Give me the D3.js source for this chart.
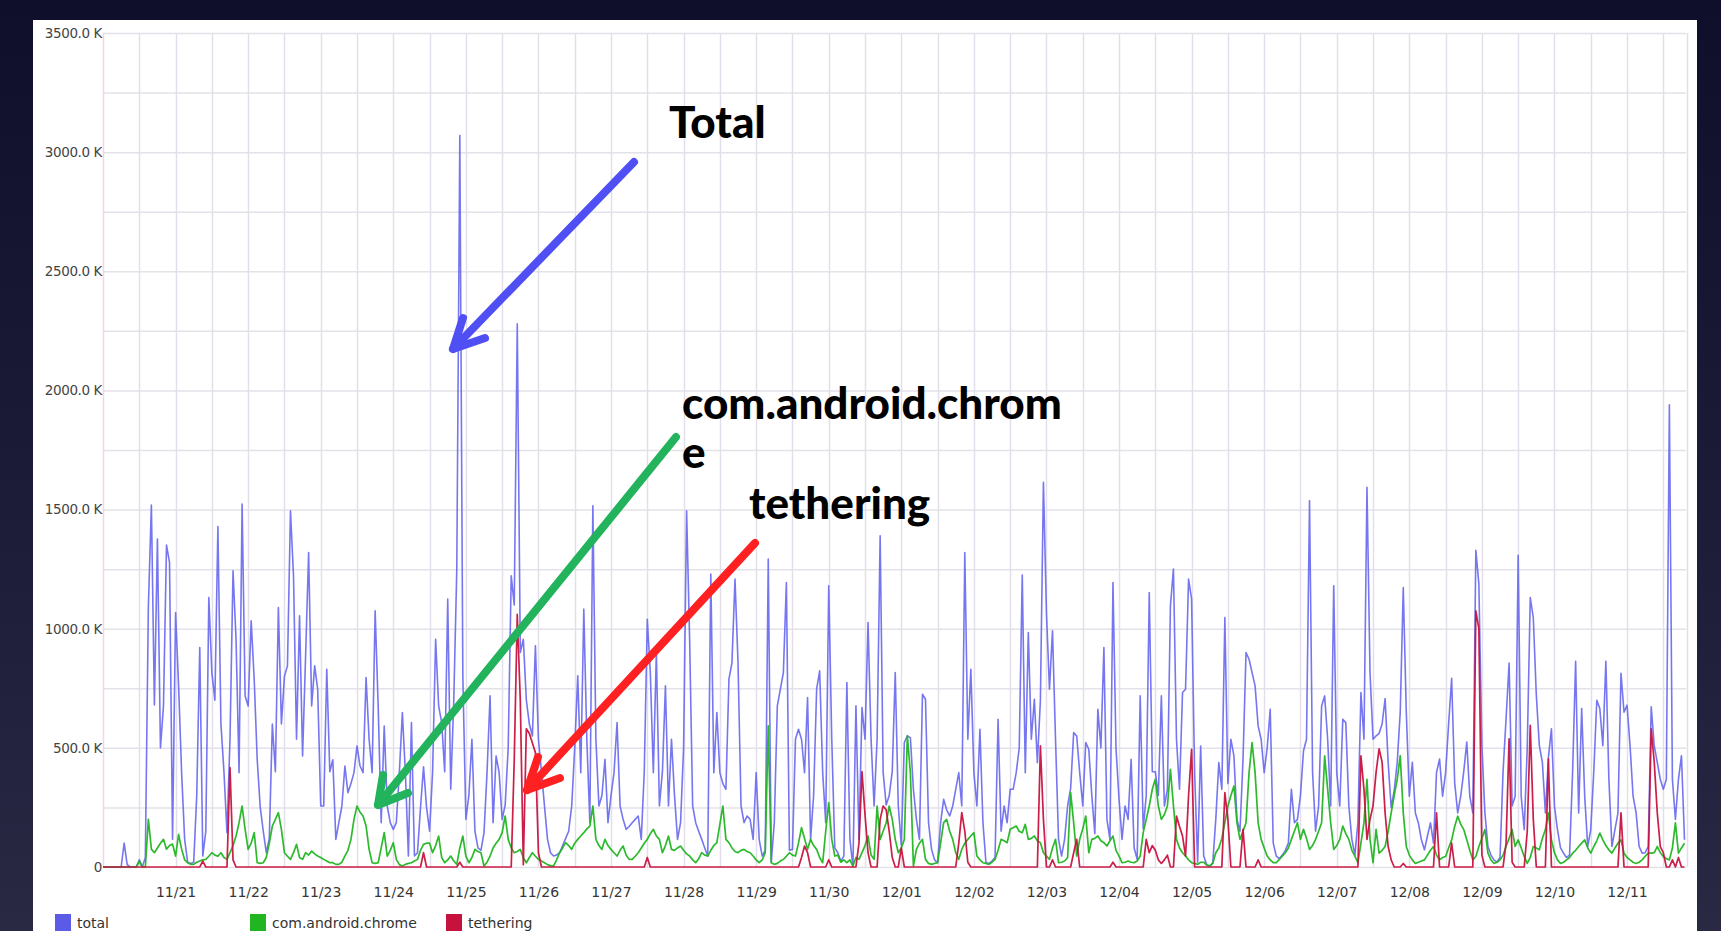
<!DOCTYPE html>
<html><head><meta charset="utf-8">
<script src="https://cdnjs.cloudflare.com/ajax/libs/d3/7.8.5/d3.min.js"></script>
<style>
html,body{margin:0;padding:0;width:1721px;height:931px;overflow:hidden;
background:linear-gradient(180deg,#100f2b 0%,#1b1a37 50%,#2a2944 100%);}
svg{display:block}
</style></head><body>
<svg id="c" width="1721" height="931"></svg>
<script>
// Hourly samples (K bytes) starting 11/20 00:00
const totalK = [
0,0,0,0,0,0,0,100,10,0,0,0,30,0,40,1090,1519,680,1376,500,676,1351,1278,116,
1068,760,396,116,20,15,20,300,921,46,150,1131,816,700,1429,600,400,144,536,1243,956,396,1523,718,
676,1033,788,450,250,150,60,120,600,400,1089,600,800,844,1495,1222,536,1054,466,886,1320,676,844,746,
256,256,830,400,450,116,186,256,424,312,350,396,508,424,396,795,536,396,1075,676,186,592,256,186,
158,186,396,648,396,46,606,46,60,250,420,250,150,400,956,676,606,400,1124,326,700,1250,3070,800,
200,300,536,150,80,70,144,396,718,186,466,396,200,260,500,1222,1100,2280,900,956,700,600,550,928,
536,400,256,116,60,46,50,60,90,120,150,256,500,802,396,1082,536,186,1516,536,256,300,452,186,
300,396,606,256,200,158,170,186,200,214,116,400,1040,816,396,900,256,400,760,256,536,300,116,186,
500,1495,956,256,186,150,116,80,46,1229,396,648,396,350,326,788,858,1208,858,256,186,214,200,116,
396,116,46,70,1292,20,186,676,746,816,1194,70,74,536,578,536,396,711,116,300,746,823,396,186,
1180,536,80,60,25,46,774,116,4,676,116,669,536,1026,536,256,536,1390,396,260,300,400,816,256,
90,522,550,543,326,200,116,725,704,186,74,30,18,186,284,240,214,256,326,396,256,1320,536,830,
396,256,578,186,18,15,25,40,620,150,256,186,326,326,396,500,1225,396,984,536,704,438,700,1614,
1068,746,991,536,116,46,116,256,330,564,550,396,256,522,494,300,140,662,500,921,200,116,1194,500,
284,116,256,200,452,80,32,718,160,300,1152,400,400,300,718,256,326,1096,1250,536,326,732,746,1208,
1124,396,20,508,46,10,4,18,200,438,326,1047,350,536,466,200,150,450,900,872,816,760,592,536,
396,500,662,100,46,35,50,70,100,326,186,200,300,487,536,1537,400,150,256,676,718,536,256,1180,
396,256,620,606,256,116,50,186,732,536,1593,816,536,550,560,600,707,439,250,320,439,650,1173,650,
297,439,227,185,114,72,130,185,100,397,453,297,396,600,792,354,227,297,400,524,297,227,1329,1188,
509,227,86,50,30,20,40,400,623,856,256,297,1308,297,157,500,1131,1046,722,509,439,227,460,580,
255,157,80,58,40,50,400,863,227,665,297,86,157,400,700,665,509,863,368,86,157,227,813,650,
679,509,297,227,86,58,60,86,672,509,439,368,326,368,1940,368,200,368,467,114
];
const chromeK = [
0,0,0,0,0,0,0,0,0,0,0,0,25,0,0,200,75,60,80,100,116,75,90,96,
46,137,75,30,18,11,11,20,25,30,32,45,60,50,45,60,40,32,60,90,130,186,256,158,
74,100,144,18,15,18,40,100,172,200,228,158,60,45,32,60,95,40,32,60,50,67,55,46,
40,32,25,18,18,11,11,20,46,70,116,200,256,230,214,172,74,18,15,18,80,144,46,70,
102,32,10,4,11,15,18,25,32,70,95,100,100,60,90,130,40,18,30,46,25,11,80,130,
46,18,40,74,65,60,4,20,46,80,100,116,144,214,116,80,60,65,74,40,18,40,60,45,
32,25,18,10,6,4,30,60,80,102,90,74,100,116,130,144,160,172,256,116,90,74,116,90,
74,60,46,70,88,50,32,32,45,60,80,100,116,140,158,130,116,60,90,130,74,70,80,88,
70,55,46,30,18,35,60,50,46,70,90,102,180,256,116,102,80,65,60,70,74,65,60,46,
30,18,30,60,592,18,11,15,25,32,45,60,50,46,100,165,120,74,116,90,74,40,18,150,
270,116,46,50,20,30,18,30,4,40,32,60,90,130,50,32,256,116,150,186,256,200,116,60,
80,116,550,396,4,74,100,116,32,15,11,15,18,100,186,200,150,116,60,32,74,100,116,130,
144,46,30,18,15,11,20,32,70,116,110,102,158,165,172,150,144,179,116,120,130,110,102,60,
46,32,80,116,18,20,25,39,312,186,46,116,160,214,60,116,120,130,110,102,88,110,130,70,
46,18,20,25,20,18,25,46,144,200,256,326,368,256,200,220,256,410,256,116,80,60,46,30,
18,15,11,20,20,8,4,15,60,80,120,186,256,300,340,186,116,150,186,396,522,396,186,116,
80,46,30,18,18,32,45,60,80,116,150,186,116,158,120,74,90,116,150,186,466,326,186,74,
90,116,172,140,116,70,46,18,100,186,368,116,18,158,58,70,86,150,227,300,368,467,227,86,
50,30,15,20,25,30,50,70,86,50,30,40,44,80,114,170,213,180,157,114,70,30,44,86,
120,157,58,30,15,20,30,50,86,120,157,86,114,80,44,15,40,86,80,72,120,157,227,114,
60,30,15,20,30,40,58,70,86,100,114,80,58,86,110,142,114,90,72,58,80,100,114,58,
40,30,20,15,20,30,45,58,58,60,86,60,44,35,30,80,185,58,80,100
];
const tetheringK = [
0,0,0,0,0,0,0,0,0,0,0,0,0,0,0,0,0,0,0,0,0,0,0,0,
0,0,0,0,0,0,0,0,0,25,0,0,0,0,0,0,0,0,417,30,0,0,0,0,
0,0,0,0,0,0,0,0,0,0,0,0,0,0,0,0,0,0,0,0,0,0,0,0,
0,0,0,0,0,0,0,0,0,0,0,0,0,0,0,0,0,0,0,0,0,0,0,0,
0,0,0,0,0,0,0,0,0,0,60,0,0,0,0,0,0,0,0,0,0,0,20,0,
0,0,0,0,0,0,0,0,0,0,0,0,0,0,0,0,450,1060,700,10,580,560,520,480,
60,0,0,0,0,0,0,0,0,0,0,0,0,0,0,0,0,0,0,0,0,0,0,0,
0,0,0,0,0,0,0,0,0,0,0,0,40,0,0,0,0,0,0,0,0,0,0,0,
0,0,0,0,0,0,0,0,0,0,0,0,0,0,0,0,0,0,0,0,0,0,0,0,
0,0,0,0,0,0,0,0,0,0,0,0,0,0,0,40,88,60,0,0,0,0,0,0,
30,0,0,0,0,0,0,0,0,0,100,400,220,60,0,0,0,200,256,240,150,40,0,0,
80,0,0,0,0,0,0,0,0,0,0,0,0,0,0,0,0,0,0,100,228,150,20,0,
0,0,0,0,0,0,0,0,0,0,0,0,0,0,0,0,0,0,0,0,0,0,508,200,
0,0,30,0,0,0,0,0,0,60,116,0,0,0,0,0,0,0,0,0,0,0,20,0,
0,0,0,0,0,0,0,0,0,116,60,90,70,30,15,30,50,0,0,214,170,130,46,300,
494,0,0,0,0,0,0,0,0,0,0,312,200,0,0,0,0,158,0,0,0,0,30,0,
0,0,0,0,0,0,0,0,0,0,0,0,0,0,0,0,0,0,0,0,0,0,0,0,
0,0,0,0,0,0,0,0,466,326,116,200,256,396,496,440,226,86,30,0,0,0,15,0,
0,0,0,0,0,0,0,0,0,227,0,0,0,0,100,0,0,0,0,0,0,0,1075,1000,
50,0,0,0,0,0,0,0,100,538,20,0,0,0,0,150,594,200,0,0,0,0,453,0,
0,0,0,0,0,0,0,0,0,0,0,0,0,0,0,0,0,0,0,0,0,0,227,0,
0,0,0,0,0,0,0,0,580,440,227,86,60,0,0,30,0,40,0,0
];
const seriesNames = ["total", "com.android.chrome", "tethering"];
const seriesColors = ["#6767ee", "#22b522", "#c8123e"];
const legendColors = ["#5b5be8", "#22b522", "#c8123e"];
const xTickLabels = ["11/21","11/22","11/23","11/24","11/25","11/26","11/27","11/28","11/29","11/30",
  "12/01","12/02","12/03","12/04","12/05","12/06","12/07","12/08","12/09","12/10","12/11"];
const yTickValues = [0,500,1000,1500,2000,2500,3000,3500];
const yTickLabels = ["0","500.0 K","1000.0 K","1500.0 K","2000.0 K","2500.0 K","3000.0 K","3500.0 K"];
const startLabel = "2014/11/20 00";
const hoursShown = 523.5;

const svg = d3.select("#c");
const L = 103, R = 1686, T = 33, B = 867;
const parseH = d3.timeParse("%Y/%m/%d %H");
const t0 = parseH(startLabel);
const tEnd = new Date(+t0 + hoursShown * 3600e3);
const x = d3.scaleTime().domain([t0, tEnd]).range([L, R]);
const y = d3.scaleLinear().domain([0, 3500]).range([B, T]);
const timeOf = i => new Date(+t0 + i * 3600e3);

// white panel
svg.append("rect").attr("x", 33).attr("y", 20).attr("width", 1664).attr("height", 920).attr("fill", "#ffffff");

// grid
const g = svg.append("g");
g.selectAll("line.h").data(d3.range(0, 3501, 250)).join("line")
  .attr("x1", L).attr("x2", R).attr("y1", d => y(d) + 0.5).attr("y2", d => y(d) + 0.5)
  .attr("stroke", "#e4e2e9").attr("stroke-width", 1.5);
const vTimes = d3.timeHour.every(12).range(t0, tEnd);
g.selectAll("line.v").data(vTimes).join("line")
  .attr("x1", d => Math.round(x(d)) + 0.5).attr("x2", d => Math.round(x(d)) + 0.5)
  .attr("y1", T).attr("y2", B)
  .attr("stroke", d => +d === +t0 ? "#eed8e6" : "#e2deea").attr("stroke-width", 1.5);
g.append("line").attr("x1", R + 1.5).attr("x2", R + 1.5).attr("y1", T).attr("y2", B)
  .attr("stroke", "#e2deea").attr("stroke-width", 1.5);

// axes
const xTickDates = xTickLabels.map(s => parseH("2014/" + s + " 00"));
const xAxis = d3.axisBottom(x).tickValues(xTickDates).tickSize(0).tickPadding(0)
  .tickFormat((d, i) => xTickLabels[i]);
const gx = svg.append("g").attr("transform", `translate(0,${B + 30})`).call(xAxis);
gx.select(".domain").remove();
gx.selectAll("text").attr("font-family", "DejaVu Sans").attr("font-size", 14).attr("fill", "#363636").attr("dy", 0);

const yAxis = d3.axisLeft(y).tickValues(yTickValues).tickSize(0).tickPadding(0)
  .tickFormat((d, i) => yTickLabels[i]);
const gy = svg.append("g").attr("transform", `translate(${L - 1},0)`).call(yAxis);
gy.select(".domain").remove();
gy.selectAll("text").attr("font-family", "DejaVu Sans").attr("font-size", 13.5).attr("fill", "#444").attr("letter-spacing", "-0.4");

// lines
const line = d3.line().x((d, i) => x(timeOf(i))).y(d => y(d));
const seriesData = [totalK, chromeK, tetheringK];
const widths = [1.6, 1.7, 1.7];
seriesData.forEach((s, k) => {
  svg.append("path").datum(s).attr("d", line).attr("fill", "none")
    .attr("stroke", seriesColors[k]).attr("stroke-width", widths[k])
    .attr("stroke-linejoin", "round").attr("opacity", k === 0 ? 0.9 : 0.95);
});

// legend
const legX = [55, 250, 446];
const lg = svg.append("g");
seriesNames.forEach((n, k) => {
  lg.append("rect").attr("x", legX[k]).attr("y", 914).attr("width", 16).attr("height", 17).attr("fill", legendColors[k]);
  lg.append("text").attr("x", legX[k] + 22).attr("y", 928).text(n)
    .attr("font-family", "DejaVu Sans").attr("font-size", 14).attr("fill", "#333");
});

// annotations
const ann = svg.append("g").attr("font-family", "Lato").attr("font-weight", 900).attr("font-size", 44).attr("fill", "#000");
ann.append("text").attr("x", 669).attr("y", 138).text("Total");
ann.append("text").attr("x", 682).attr("y", 419).text("com.android.chrom");
ann.append("text").attr("x", 682).attr("y", 468).text("e");
ann.append("text").attr("x", 749).attr("y", 519).text("tethering");

const arrows = [
  {c: "#4f4ff4", p: [[634,162],[453,349]], h: [[463,318],[453,349],[485,338]]},
  {c: "#22b35c", p: [[676,437],[378,805]], h: [[383,775],[378,805],[408,793]]},
  {c: "#ff2121", p: [[755,543],[527,790]], h: [[538,757],[527,790],[560,778]]}
];
const ln = d3.line();
arrows.forEach(a => {
  svg.append("path").attr("d", ln(a.p)).attr("stroke", a.c).attr("stroke-width", 8)
    .attr("fill", "none").attr("stroke-linecap", "round");
  svg.append("path").attr("d", ln(a.h)).attr("stroke", a.c).attr("stroke-width", 8)
    .attr("fill", "none").attr("stroke-linecap", "round").attr("stroke-linejoin", "round");
});
</script>
</body></html>
